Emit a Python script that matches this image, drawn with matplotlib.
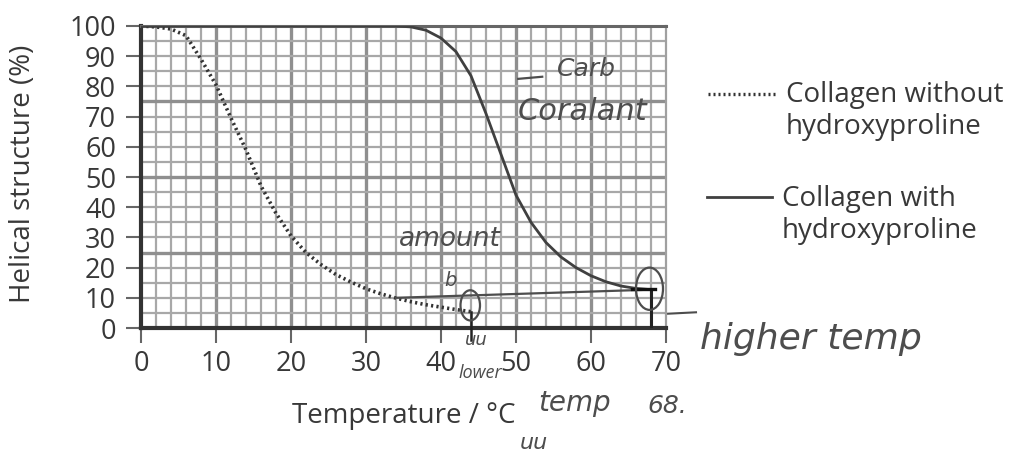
import numpy as np
import matplotlib
matplotlib.use('Agg')
import matplotlib.pyplot as plt
from matplotlib.lines import Line2D
from matplotlib.patches import Ellipse

# Temperature (°C) and % helical structure
TEMP_WITHOUT = [0, 2, 4, 6, 8, 10, 12, 14, 16, 18, 20, 22, 24, 26, 28, 30,
                32, 34, 36, 38, 40, 42, 44]
HELIX_WITHOUT = [100, 99.7, 99, 96.8, 89, 80.5, 69.5, 59, 47, 38, 30.5, 25,
                 21, 17.7, 15.2, 13, 11.3, 9.9, 8.7, 7.7, 6.9, 6.1, 5.4]

TEMP_WITH = [0, 10, 20, 30, 34, 36, 38, 40, 42, 44, 46, 48, 50, 52, 54, 56,
             58, 60, 62, 64, 66, 68]
HELIX_WITH = [100, 100, 100, 100, 100, 99.7, 98.6, 96, 91.5, 83.5, 71, 57.5,
              44, 35, 28.3, 23.5, 20, 17.3, 15.3, 13.9, 13.1, 12.7]

X_TICKS = list(range(0, 71, 10))
Y_TICKS = list(range(0, 101, 10))

LEGEND_LABELS = ['Collagen without\nhydroxyproline',
                 'Collagen with\nhydroxyproline']

W, H = 1019, 461
INK = '#383838'
PENCIL = '#4d4d4d'
FONT = ['Open Sans', 'DejaVu Sans']


def fx(px):
    return px / W


def fy(py):
    return 1 - py / H


fig = plt.figure(figsize=(W / 100, H / 100), dpi=100)
ax = fig.add_axes([fx(141), fy(328), fx(666) - fx(141), fy(26) - fy(328)])

ax.set_xlim(0, 70)
ax.set_ylim(0, 100)

# graph paper grid: minor every 2 °C / 5 %, major every 10 °C / 25 %
for x in np.arange(2, 70, 2):
    major = x % 10 == 0
    ax.axvline(x, color='#8f8f8f' if major else '#a8a8a8',
               lw=2.4 if major else 1.6, zorder=1)
for y in np.arange(5, 100, 5):
    major = y % 25 == 0
    ax.axhline(y, color='#8f8f8f' if major else '#a8a8a8',
               lw=2.4 if major else 1.6, zorder=1)

ax.plot(TEMP_WITHOUT, HELIX_WITHOUT, color='#333333', lw=2.6,
        linestyle=(0, (0.6, 0.9)), zorder=3)
ax.plot(TEMP_WITH, HELIX_WITH, color='#404040', lw=2.0, zorder=3)

for side in ['left', 'bottom']:
    ax.spines[side].set_color('#333333')
    ax.spines[side].set_linewidth(3)
ax.spines['top'].set_color('#666666')
ax.spines['top'].set_linewidth(2.2)
ax.spines['right'].set_color('#a0a0a0')
ax.spines['right'].set_linewidth(1.6)

ax.set_xticks(X_TICKS)
ax.set_yticks(Y_TICKS)
ax.tick_params(direction='out', length=11, width=1.5, color='#666666',
               labelcolor=INK, labelsize=19.5)
ax.tick_params(axis='x', pad=5)
ax.tick_params(axis='y', pad=7)
for lab in ax.get_xticklabels() + ax.get_yticklabels():
    lab.set_family(FONT)

ax.set_xlabel('Temperature / °C', fontsize=20, color=INK, family=FONT,
              va='center')
ax.set_ylabel('Helical structure (%)', fontsize=20, color=INK, family=FONT,
              va='center')
ax.xaxis.set_label_coords(0.5, -0.291)
ax.yaxis.set_label_coords(-0.225, 0.51)

# legend drawn by hand, to the right of the grid
fig.add_artist(Line2D([fx(708), fx(777)], [fy(94), fy(94)], color='#333333',
                      lw=2.4, linestyle=(0, (0.6, 0.9))))
fig.add_artist(Line2D([fx(707), fx(772)], [fy(197), fy(197)], color='#404040',
                      lw=2.0))
fig.text(fx(786), fy(111), LEGEND_LABELS[0], fontsize=20, color=INK,
         family=FONT, va='center', ha='left', linespacing=1.2)
fig.text(fx(782), fy(215), LEGEND_LABELS[1], fontsize=20, color=INK,
         family=FONT, va='center', ha='left', linespacing=1.2)

# pencil annotations on the scan
ax.plot([34, 68], [10, 12.7], color=PENCIL, lw=1.6, zorder=4)
ax.plot([68, 68], [12.7, 0], color='#222222', lw=2.2, zorder=4)
ax.plot([44, 44], [5.4, -4], color='#222222', lw=1.8, zorder=4, clip_on=False)
ax.plot([65.5, 68.5], [12.9, 12.9], color='#111111', lw=2.4, zorder=4)
ax.add_patch(Ellipse((43.9, 7.5), 2.6, 10, fill=False, ec=PENCIL, lw=1.6,
                     zorder=4))
ax.add_patch(Ellipse((67.8, 13), 3.6, 14, fill=False, ec=PENCIL, lw=1.6,
                     zorder=4, clip_on=False))
ax.plot([50.3, 53.5], [82.5, 83.2], color=PENCIL, lw=1.6, zorder=4)
hand = dict(color=PENCIL, style='italic', family='DejaVu Sans', zorder=5,
            clip_on=False)
ax.text(55.5, 83.5, 'Carb', fontsize=18, **hand)
ax.text(50.2, 69, 'Coralant', fontsize=22, **hand)
ax.text(34.4, 27, 'amount', fontsize=19, **hand)
ax.text(40.5, 14, 'b', fontsize=14, **hand)
ax.text(43.2, -5.5, 'uu', fontsize=13, **hand)
ax.plot([70, 74], [4.7, 5.2], color=PENCIL, lw=1.5, clip_on=False)
ax.text(74.5, -7, 'higher temp', fontsize=26, **hand)
ax.text(42.3, -16.5, 'lower', fontsize=13, color=PENCIL, style='italic',
        family=FONT, zorder=5, clip_on=False)
ax.text(53, -27.5, 'temp', fontsize=20, **hand)
ax.text(67.5, -28, '68.', fontsize=18, **hand)
ax.text(50.5, -40, 'uu', fontsize=16, **hand)

fig.savefig('out.png', dpi=100, facecolor='white')
